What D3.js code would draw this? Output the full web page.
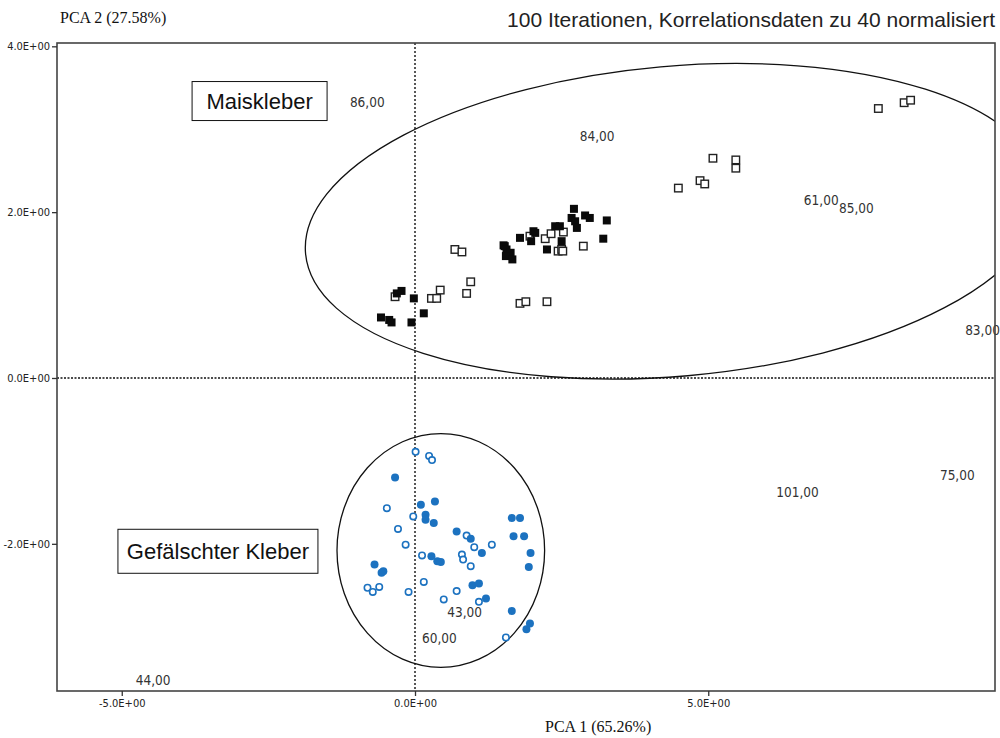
<!DOCTYPE html>
<html>
<head>
<meta charset="utf-8">
<script src="https://cdn.jsdelivr.net/npm/d3@7/dist/d3.min.js"></script>
<style>
body { margin: 0; background: #fff; }
svg { display: block; }
.num { font-family: "Liberation Sans Narrow", "DejaVu Sans Condensed", "Arial Narrow", sans-serif; font-stretch: condensed; font-size: 13.5px; fill: #333; }
.tick { font-family: "Liberation Sans Narrow", "DejaVu Sans Condensed", "Arial Narrow", sans-serif; font-stretch: condensed; font-size: 11px; fill: #222; }
.atitle { font-family: "Liberation Serif", "Times New Roman", serif; font-size: 16px; fill: #111; }
</style>
</head>
<body>
<svg id="chart" width="1000" height="738"></svg>
<script>
// PCA scores (PCA 1, PCA 2)
var maisFilled = [
	[2.71,2.04],[2.90,1.96],[2.98,1.93],[3.27,1.90],[3.21,1.68],[2.67,1.93],[2.73,1.89],
	[2.76,1.81],[2.39,1.83],[2.47,1.83],[2.50,1.65],[2.02,1.77],[2.05,1.75],[1.98,1.65],
	[1.79,1.69],[2.25,1.55],[1.51,1.60],[1.53,1.59],[1.56,1.55],[1.63,1.51],[1.55,1.47],
	[1.66,1.43],[-0.31,1.02],[-0.23,1.05],[-0.02,0.96],[0.15,0.78],[-0.58,0.73],
	[-0.44,0.70],[-0.40,0.67],[-0.06,0.67]
];
var maisOpen = [
	[0.68,1.55],[0.80,1.52],[-0.34,0.98],[0.43,1.06],[0.28,0.96],[0.37,0.96],[0.95,1.16],
	[0.88,1.02],[1.79,0.90],[1.89,0.92],[2.25,0.92],[1.96,1.71],[2.22,1.68],[2.32,1.74],
	[2.53,1.76],[2.44,1.53],[2.50,1.55],[2.52,1.53],[2.87,1.59],[7.90,3.25],[8.34,3.32],
	[8.45,3.35],[5.08,2.65],[5.47,2.63],[5.47,2.53],[4.86,2.38],[4.94,2.34],[4.49,2.29]
];
var fakeFilled = [
	[-0.34,-1.20],[0.10,-1.53],[0.34,-1.49],[0.18,-1.65],[0.18,-1.71],[0.32,-1.75],
	[0.71,-1.85],[0.95,-1.94],[1.14,-2.11],[0.28,-2.15],[0.38,-2.21],[0.44,-2.22],
	[-0.69,-2.25],[-0.54,-2.33],[-0.57,-2.35],[1.65,-1.69],[1.79,-1.69],[1.68,-1.91],
	[1.86,-1.91],[1.97,-2.11],[1.94,-2.28],[0.98,-2.50],[1.09,-2.48],[1.21,-2.66],
	[1.65,-2.81],[1.96,-2.96],[1.90,-3.03]
];
var fakeOpen = [
	[0.01,-0.89],[0.24,-0.94],[0.29,-0.99],[-0.48,-1.57],[-0.03,-1.67],[-0.29,-1.82],
	[-0.16,-2.01],[0.12,-2.14],[0.88,-1.90],[1.01,-2.04],[1.31,-2.01],[0.80,-2.13],
	[0.82,-2.19],[0.95,-2.27],[-0.81,-2.53],[-0.72,-2.58],[-0.61,-2.52],[-0.11,-2.58],
	[0.15,-2.46],[0.71,-2.57],[0.49,-2.67],[1.09,-2.70],[1.55,-3.13]
];

// case labels: text, PCA 1, PCA 2 (left edge of text)
var caseLabels = [
	["86,00",-1.11,3.33],["84,00",2.81,2.92],["61,00",6.63,2.14],["85,00",7.23,2.05],
	["83,00",9.38,0.57],["75,00",8.95,-1.17],["101,00",6.16,-1.38],["43,00",0.55,-2.82],
	["60,00",0.12,-3.14],["44,00",-4.76,-3.65]
];

// group enclosures: centre x, centre y, radius x, radius y (data units)
var groupNames = ["Maiskleber", "Gefälschter Kleber"];
var groupCentres = [[4.42,1.89],[0.44,-2.08]];
var groupRadii = [[6.31,1.87],[1.77,1.41]];
var groupTilt = [-5, 0];
var groupLabelPos = [[-2.65,3.34],[-3.36,-2.09]];

var xTicks = [-5, 0, 5];
var yTicks = [4, 2, 0, -2];
var xDomain = [-6.104, 9.889];
var yDomain = [-3.775, 4.04];

var svg = d3.select("#chart");
var margin = {top: 43, right: 5, bottom: 47, left: 57};
var innerWidth = svg.attr("width") - margin.left - margin.right;
var innerHeight = svg.attr("height") - margin.top - margin.bottom;

var x = d3.scaleLinear().domain(xDomain).range([0, innerWidth]);
var y = d3.scaleLinear().domain(yDomain).range([innerHeight, 0]);

var tickFmt = d => (d < 0 ? "-" : "") + d3.format(".1f")(Math.abs(d)) + "E+00";

var g = svg.append("g")
	.attr("transform", `translate(${margin.left}, ${margin.top})`);

g.append("clipPath").attr("id", "clip")
	.append("rect").attr("width", innerWidth).attr("height", innerHeight);

// reference lines at zero
g.append("line")
	.attr("x1", x(0)).attr("x2", x(0))
	.attr("y1", 0).attr("y2", innerHeight)
	.attr("stroke", "#111").attr("stroke-width", 1.4)
	.attr("stroke-dasharray", "2,2");
g.append("line")
	.attr("x1", 0).attr("x2", innerWidth)
	.attr("y1", y(0)).attr("y2", y(0))
	.attr("stroke", "#111").attr("stroke-width", 1.6)
	.attr("stroke-dasharray", "2,1.5");

// enclosures
var encl = g.append("g").attr("clip-path", "url(#clip)");
groupNames.forEach(function(n, i) {
	var cx = x(groupCentres[i][0]), cy = y(groupCentres[i][1]);
	encl.append("ellipse")
		.attr("cx", cx).attr("cy", cy)
		.attr("rx", x(groupRadii[i][0]) - x(0))
		.attr("ry", y(0) - y(groupRadii[i][1]))
		.attr("transform", "rotate(" + groupTilt[i] + "," + cx + "," + cy + ")")
		.attr("fill", "none")
		.attr("stroke", "#111")
		.attr("stroke-width", 1.3);
});

// points
var sq = 7.5;
g.append("g").selectAll("rect")
	.data(maisOpen).enter().append("rect")
	.attr("x", d => x(d[0]) - sq / 2)
	.attr("y", d => y(d[1]) - sq / 2)
	.attr("width", sq).attr("height", sq)
	.attr("fill", "#fff").attr("stroke", "#222").attr("stroke-width", 1.4);

g.append("g").selectAll("rect")
	.data(maisFilled).enter().append("rect")
	.attr("x", d => x(d[0]) - 4)
	.attr("y", d => y(d[1]) - 4)
	.attr("width", 8).attr("height", 8)
	.attr("fill", "#0a0a0a");

g.append("g").selectAll("circle")
	.data(fakeOpen).enter().append("circle")
	.attr("cx", d => x(d[0]))
	.attr("cy", d => y(d[1]))
	.attr("r", 3.2)
	.attr("fill", "#fff").attr("stroke", "#1c72c0").attr("stroke-width", 1.6);

g.append("g").selectAll("circle")
	.data(fakeFilled).enter().append("circle")
	.attr("cx", d => x(d[0]))
	.attr("cy", d => y(d[1]))
	.attr("r", 4)
	.attr("fill", "#1c72c0");

// case labels
g.append("g").selectAll("text")
	.data(caseLabels).enter().append("text")
	.attr("class", "num")
	.attr("x", d => x(d[1]))
	.attr("y", d => y(d[2]))
	.attr("dy", "0.35em")
	.text(d => d[0]);

// group label boxes
var boxSize = [[135, 39], [200, 44]];
groupNames.forEach(function(n, i) {
	var bx = x(groupLabelPos[i][0]), by = y(groupLabelPos[i][1]);
	g.append("rect")
		.attr("x", bx - boxSize[i][0] / 2).attr("y", by - boxSize[i][1] / 2)
		.attr("width", boxSize[i][0]).attr("height", boxSize[i][1])
		.attr("fill", "#fff").attr("stroke", "#111").attr("stroke-width", 1);
	g.append("text")
		.attr("x", bx).attr("y", by)
		.attr("dy", "0.35em")
		.attr("text-anchor", "middle")
		.style("font-family", "'Liberation Sans', Arial, sans-serif")
		.style("font-size", "22px")
		.attr("fill", "#111")
		.text(n);
});

// frame
g.append("rect")
	.attr("width", innerWidth).attr("height", innerHeight)
	.attr("fill", "none").attr("stroke", "#444").attr("stroke-width", 1.6);

// axes
var xAxis = g.append("g")
	.attr("transform", "translate(0," + innerHeight + ")")
	.call(d3.axisBottom(x).tickValues(xTicks).tickSize(5).tickPadding(3).tickFormat(tickFmt));
var yAxis = g.append("g")
	.call(d3.axisLeft(y).tickValues(yTicks).tickSize(5).tickPadding(2).tickFormat(tickFmt));
[xAxis, yAxis].forEach(function(a) {
	a.attr("font-size", null).attr("font-family", null);
	a.select(".domain").remove();
	a.selectAll("line").attr("stroke", "#333").attr("stroke-width", 1.3);
	a.selectAll("text").attr("class", "tick").attr("fill", null);
});

// titles
svg.append("text")
	.attr("class", "atitle")
	.attr("x", 60).attr("y", 23)
	.text("PCA 2 (27.58%)");
svg.append("text")
	.attr("class", "atitle")
	.attr("x", 545).attr("y", 732)
	.text("PCA 1 (65.26%)");
svg.append("text")
	.attr("x", 995).attr("y", 27)
	.attr("text-anchor", "end")
	.style("font-family", "'Liberation Sans', Arial, sans-serif")
	.style("font-size", "21px")
	.attr("fill", "#222")
	.text("100 Iterationen, Korrelationsdaten zu 40 normalisiert");
</script>
</body>
</html>
